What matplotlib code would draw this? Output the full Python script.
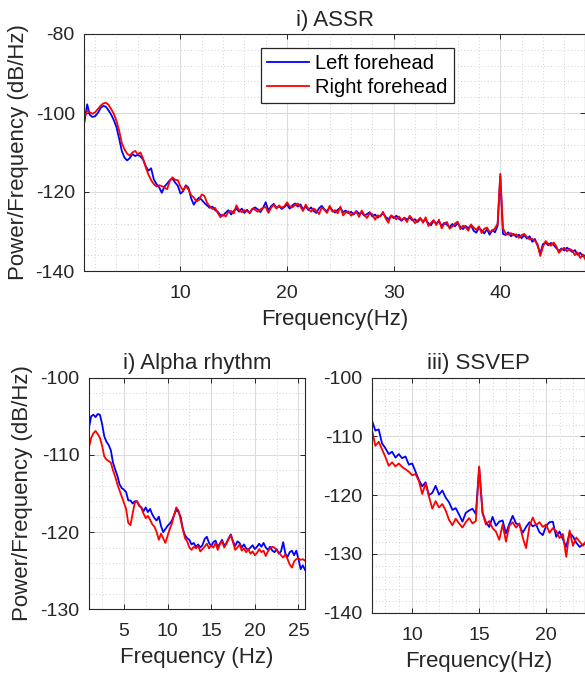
import numpy as np
import matplotlib
matplotlib.use('Agg')
import matplotlib.pyplot as plt
from matplotlib.ticker import MultipleLocator

plt.rcParams['font.family'] = ['Liberation Sans', 'DejaVu Sans']
plt.rcParams['axes.unicode_minus'] = False

# i) ASSR  (1 .. 48 Hz, 0.25 Hz step)
assr_freq = np.arange(1.0, 48.01, 0.25)
assr_left = [
    -102.2, -97.8, -100.5, -101.0, -100.8, -100.0, -98.8, -98.2,
    -98.4, -99.3, -100.4, -101.8, -103.6, -106.5, -109.6, -111.3,
    -112.0, -111.4, -110.4, -110.9, -110.6, -111.0, -111.8, -113.5,
    -114.6, -114.0, -116.8, -118.0, -118.8, -120.2, -118.6, -117.9,
    -117.0, -116.6, -117.6, -118.4, -120.4, -119.8, -118.3, -118.9,
    -121.6, -123.2, -122.1, -121.4, -122.0, -122.8, -123.4, -124.0,
    -123.7, -124.6, -125.0, -125.8, -126.0, -125.2, -124.6, -125.7,
    -124.8, -124.2, -125.0, -124.2, -125.3, -124.5, -125.4, -124.3,
    -123.9, -124.4, -125.1, -124.0, -122.6, -124.7, -123.6, -123.0,
    -124.0, -123.6, -124.3, -123.8, -123.2, -124.2, -123.4, -122.9,
    -123.7, -123.1, -124.4, -123.6, -124.6, -123.9, -124.8, -125.3,
    -124.1, -123.5, -124.4, -124.9, -123.8, -124.6, -125.2, -124.5,
    -124.0, -125.1, -124.7, -125.4, -125.0, -125.7, -124.8, -125.5,
    -125.2, -126.0, -125.6, -125.1, -126.2, -125.7, -126.5, -126.0,
    -125.4, -126.3, -126.9, -126.1, -126.6, -126.0, -126.8, -127.3,
    -126.5, -127.0, -126.4, -127.2, -126.9, -127.6, -126.8, -127.4,
    -127.0, -127.9, -128.4, -127.3, -128.0, -127.5, -128.6, -127.8,
    -128.3, -128.9, -128.1, -128.7, -127.9, -128.8, -129.4, -128.6,
    -129.2, -128.4, -129.8, -130.3, -129.1, -129.7, -130.5, -129.4,
    -130.8, -129.6, -130.2, -128.6, -116.0, -130.6, -130.9, -130.2,
    -131.2, -130.6, -131.4, -130.8, -131.7, -130.9, -131.8, -131.2,
    -132.6, -131.9, -133.6, -135.6, -133.2, -132.8, -133.5, -132.9,
    -133.4, -134.2, -134.9, -134.3, -134.8, -134.1, -134.6, -135.2,
    -134.7, -135.9, -135.4, -136.3, -136.0,
]
assr_right = [
    -101.0, -99.5, -99.8, -100.2, -99.8, -99.0, -98.2, -97.6,
    -97.4, -97.9, -99.0, -100.2, -102.0, -104.5, -107.6, -109.2,
    -110.3, -110.8, -110.0, -109.6, -110.4, -110.0, -111.6, -113.8,
    -115.6, -117.0, -118.0, -118.6, -118.3, -118.5, -118.9, -119.3,
    -117.2, -116.3, -116.9, -117.0, -118.6, -119.6, -118.5, -119.4,
    -120.8, -121.4, -122.4, -122.0, -120.6, -121.0, -122.8, -123.6,
    -124.3, -124.0, -125.3, -126.4, -125.7, -126.2, -125.0, -124.8,
    -125.4, -123.4, -124.6, -125.1, -124.6, -124.9, -125.2, -124.2,
    -124.5, -125.0, -124.4, -124.0, -123.8, -125.3, -124.0, -123.2,
    -124.2, -123.4, -124.0, -123.6, -122.6, -123.6, -123.9, -123.3,
    -122.9, -123.7, -124.8, -123.2, -124.3, -125.0, -124.2, -124.7,
    -125.6, -123.9, -124.5, -125.3, -123.5, -125.0, -124.6, -125.4,
    -123.7, -125.9, -125.2, -124.9, -126.0, -125.4, -125.0, -126.3,
    -124.7, -125.8, -126.6, -125.3, -125.6, -127.0, -125.9, -126.2,
    -125.0, -126.7, -127.8, -125.9, -126.3, -126.9, -126.2, -127.1,
    -126.6, -127.6, -126.0, -126.8, -127.9, -127.2, -126.5, -127.8,
    -126.4, -128.6, -127.8, -127.1, -128.4, -127.0, -129.2, -128.0,
    -127.6, -129.3, -128.7, -128.0, -127.5, -129.4, -128.5, -128.9,
    -129.8, -128.2, -129.0, -129.6, -128.7, -130.4, -129.3, -129.0,
    -130.1, -129.9, -129.2, -128.0, -115.4, -129.2, -130.5, -130.8,
    -130.4, -131.0, -130.7, -131.6, -130.9, -130.6, -131.4, -132.0,
    -131.8, -132.4, -133.2, -136.2, -133.9, -132.4, -133.1, -133.6,
    -132.8, -133.7, -135.4, -134.6, -134.1, -135.0, -134.4, -134.8,
    -136.0, -135.3, -136.7, -135.8, -137.2,
]

# ii) Alpha rhythm  (1 .. 25.75 Hz, 0.25 Hz step)
alpha_freq = np.arange(1.0, 25.76, 0.25)
alpha_left = [
    -106.5, -105.0, -104.8, -105.1, -104.7, -104.8, -106.0, -107.6,
    -108.3, -108.7, -109.4, -111.0, -111.9, -112.7, -113.8, -114.3,
    -114.5, -114.8, -115.9, -115.9, -116.3, -116.0, -116.0, -116.6,
    -116.8, -117.3, -116.8, -117.4, -117.0, -117.7, -118.2, -118.5,
    -118.0, -119.2, -120.0, -119.6, -119.2, -118.9, -118.5, -117.8,
    -117.1, -117.4, -118.0, -119.6, -120.4, -120.8, -121.0, -121.6,
    -121.4, -121.9, -121.6, -122.0, -121.7, -120.9, -120.6, -121.4,
    -121.8, -121.3, -121.1, -121.9, -121.5, -121.0, -121.8, -121.4,
    -120.8, -120.3, -121.2, -121.8, -121.2, -121.4, -122.0, -121.6,
    -122.1, -122.3, -122.0, -121.7, -122.2, -121.9, -121.5, -121.9,
    -121.4, -122.0, -122.3, -121.9, -122.4, -122.6, -122.2, -122.8,
    -122.5, -121.3, -122.8, -123.2, -122.6, -122.4, -123.0, -122.4,
    -123.5, -124.8, -124.3, -124.9,
]
alpha_right = [
    -109.0, -107.8, -107.2, -106.9, -107.3, -107.8, -108.8, -110.2,
    -110.6, -110.8, -111.0, -112.0, -112.8, -113.8, -114.6, -115.4,
    -116.2, -117.0, -118.8, -119.1, -117.6, -116.2, -116.0, -116.5,
    -116.9, -117.6, -118.2, -117.9, -118.4, -119.0, -119.3, -120.0,
    -121.0, -120.2, -120.8, -121.4, -120.5, -119.6, -118.9, -117.8,
    -116.8, -117.2, -118.4, -119.6, -120.8, -121.2, -122.0, -122.3,
    -121.9, -122.1, -121.8, -122.5, -122.2, -121.9, -121.5, -122.1,
    -121.7, -122.0, -121.4, -122.3, -121.6, -121.2, -122.0, -121.5,
    -120.9, -120.4, -121.3, -122.3, -122.0, -121.6, -122.4, -122.1,
    -122.6, -122.2, -122.8, -122.5, -123.0, -122.7, -122.2, -122.6,
    -122.4, -123.1, -122.5, -122.1, -121.9, -122.0, -122.4, -122.6,
    -123.0, -123.3, -122.9, -123.5, -124.2, -124.6, -123.8, -123.5,
    -123.4, -123.6, -123.5, -123.7,
]

# iii) SSVEP  (7 .. 23 Hz, 0.25 Hz step)
ssvep_freq = np.arange(7.0, 23.01, 0.25)
ssvep_left = [
    -107.3, -109.0, -108.8, -111.2, -112.0, -113.0, -112.6, -113.6,
    -113.0, -113.7, -113.4, -114.8, -114.6, -116.0, -117.4, -118.5,
    -117.8, -120.0, -119.6, -118.4, -119.9, -119.2, -120.4, -121.2,
    -122.5, -122.2, -123.3, -124.5, -123.0, -122.6, -122.3, -123.2,
    -115.3, -123.1, -124.6, -125.4, -123.7, -125.2, -124.5, -124.3,
    -126.5, -124.9, -123.5, -124.8, -125.1, -126.4, -125.4, -124.6,
    -125.3, -125.0, -126.3, -126.8, -125.2, -124.6, -124.5, -127.1,
    -126.2, -127.5, -128.8, -126.4, -127.0, -128.1, -128.8, -128.4,
    -128.2,
]
ssvep_right = [
    -108.9, -111.6, -110.9, -112.2, -113.5, -115.0, -114.4, -115.1,
    -114.6, -115.2, -115.6, -116.0, -116.6, -116.4, -117.6, -119.8,
    -118.0, -120.2, -122.3, -121.0, -122.1, -121.5, -122.6, -124.2,
    -125.1, -124.0, -124.8, -125.5, -124.6, -123.9, -124.8, -124.4,
    -115.1, -122.8, -125.0, -124.4, -125.6, -126.2, -127.6, -125.0,
    -127.9, -125.2, -124.6, -125.5, -124.8, -127.2, -129.0, -125.3,
    -123.8, -125.1, -124.6, -125.4, -125.0, -126.4, -125.6, -126.1,
    -127.3, -126.6, -130.5, -126.0, -128.6, -127.2, -127.9, -128.6,
    -127.7,
]

series_labels = ['Left forehead', 'Right forehead']
line_colors = ['#0000ff', '#ff0000']

W, H = 585, 677
fig = plt.figure(figsize=(W / 100, H / 100), dpi=100)


def make_axes(left, top, right, bottom):
    # pixel box -> figure fraction
    return fig.add_axes([left / W, 1 - bottom / H, (right - left) / W, (bottom - top) / H])


def style_axes(ax, xlim, ylim, xmaj, xmin, ymaj, ymin):
    ax.set_xlim(*xlim)
    ax.set_ylim(*ylim)
    ax.xaxis.set_major_locator(MultipleLocator(xmaj))
    ax.xaxis.set_minor_locator(MultipleLocator(xmin))
    ax.yaxis.set_major_locator(MultipleLocator(ymaj))
    ax.yaxis.set_minor_locator(MultipleLocator(ymin))
    ax.grid(which='major', color='#dcdcdc', linewidth=0.8, linestyle='-')
    ax.grid(which='minor', color='#c4c4c4', linewidth=0.6, linestyle=(0, (1, 3)))
    ax.set_axisbelow(True)
    ax.tick_params(which='major', direction='in', top=True, right=True, length=3.5,
                   width=0.7, color='#262626', labelsize=14, labelcolor='#262626')
    ax.tick_params(axis='x', which='major', pad=10)
    ax.tick_params(axis='y', which='major', pad=7)
    ax.tick_params(which='minor', length=0)
    for sp in ax.spines.values():
        sp.set_color('#262626')
        sp.set_linewidth(0.8)


# top panel
ax1 = make_axes(84.5, 34, 584.5, 271)
ax1.plot(assr_freq, assr_left, color=line_colors[0], lw=1.3, label=series_labels[0])
ax1.plot(assr_freq, assr_right, color=line_colors[1], lw=1.3, label=series_labels[1])
style_axes(ax1, (1, 47.9), (-140, -80), 10, 2, 20, 4)
ax1.set_title('i) ASSR', fontsize=16, color='#262626')
ax1.set_xlabel('Frequency(Hz)', fontsize=16, color='#262626', labelpad=5)
ax1.set_ylabel('Power/Frequency (dB/Hz)', fontsize=16, color='#262626', labelpad=5)
leg = ax1.legend(loc='upper left', bbox_to_anchor=(0.353, 0.942), borderaxespad=0,
                 fontsize=14.5, handlelength=2.1, handletextpad=0.3, borderpad=0.3,
                 labelspacing=0.25, fancybox=False, framealpha=1)
leg.get_frame().set_edgecolor('#262626')
leg.get_frame().set_linewidth(0.9)

# bottom left panel
ax2 = make_axes(89, 377.7, 305, 609.3)
ax2.plot(alpha_freq, alpha_left, color=line_colors[0], lw=1.3)
ax2.plot(alpha_freq, alpha_right, color=line_colors[1], lw=1.3)
style_axes(ax2, (1, 25.75), (-130, -100), 5, 2.5, 10, 2)
ax2.set_title('i) Alpha rhythm', fontsize=16, color='#262626')
ax2.set_xlabel('Frequency (Hz)', fontsize=16, color='#262626', labelpad=5)
ax2.set_ylabel('Power/Frequency (dB/Hz)', fontsize=16, color='#262626', labelpad=5)

# bottom right panel
ax3 = make_axes(372, 377.7, 585, 612.7)
ax3.plot(ssvep_freq, ssvep_left, color=line_colors[0], lw=1.3)
ax3.plot(ssvep_freq, ssvep_right, color=line_colors[1], lw=1.3)
style_axes(ax3, (7, 22.9), (-140, -100), 5, 1, 10, 2)
ax3.set_title('iii) SSVEP', fontsize=16, color='#262626')
ax3.set_xlabel('Frequency(Hz)', fontsize=16, color='#262626', labelpad=5)

fig.savefig('out.png', dpi=100)
